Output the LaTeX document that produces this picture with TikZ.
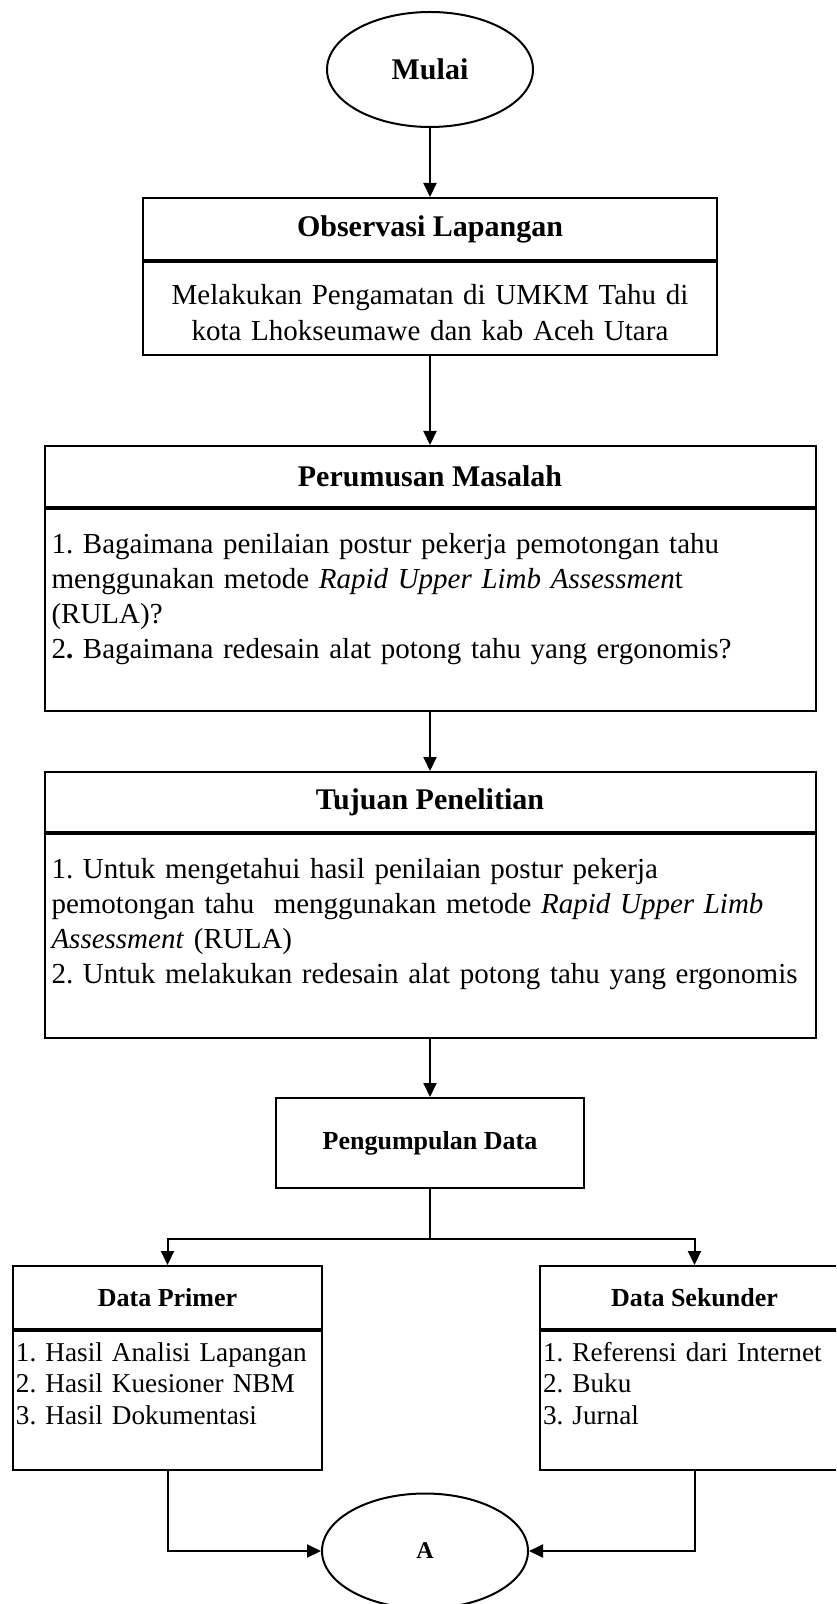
\documentclass[tikz,border=0pt]{standalone}
\usepackage{fontspec}
\setmainfont{Liberation Serif}
\usetikzlibrary{shapes.geometric,arrows.meta}

\tikzset{
	garis/.style={line width=1pt},
	panah/.style={garis, -{Triangle[length=7pt,width=6.5pt]}},
	oval/.style={draw, garis, ellipse, minimum width=103pt, minimum height=57.5pt, inner sep=0pt},
	judul/.style={draw, garis, anchor=north, inner sep=0pt, font=\bfseries\fontsize{15}{18}\selectfont},
	judulkecil/.style={judul, font=\bfseries\fontsize{13}{15.6}\selectfont},
	isi/.style={draw, garis, anchor=north, inner ysep=0pt, inner xsep=3.5pt, align=left, font=\fontsize{14.5}{17.6}\selectfont},
	isikecil/.style={isi, inner xsep=1.5pt, font=\fontsize{13.6}{15.9}\selectfont}
}

\begin{document}
\frenchspacing
\begin{tikzpicture}[x=0.5pt, y=-0.5pt]
	\clip (0,0) rectangle (836,1604);

	%% Mulai
	\node[oval, font=\bfseries\fontsize{15}{18}\selectfont] (mulai) at (430,69.5) {Mulai};

	%% Observasi Lapangan
	\node[judul, minimum width=287pt, minimum height=31pt] (obsjudul) at (430,197) {Observasi Lapangan};
	\node[isi, align=center, text width=280pt, text height=21.5pt, text depth=25pt] (obsisi) at (obsjudul.south)
		{Melakukan Pengamatan di UMKM Tahu di\\kota Lhokseumawe dan kab Aceh Utara};

	%% Perumusan Masalah
	\node[judul, minimum width=385.5pt, minimum height=30.5pt] (rumusjudul) at (430,445) {Perumusan Masalah};
	\node[isi, text width=378.5pt, text height=22pt, text depth=79pt] (rumusisi) at (rumusjudul.south)
		{1. Bagaimana penilaian postur pekerja pemotongan tahu\\
		menggunakan metode \textit{Rapid Upper Limb Assessmen}t\\
		(RULA)?\\
		2\textbf{.} Bagaimana redesain alat potong tahu yang ergonomis?};

	%% Tujuan Penelitian
	\node[judul, minimum width=385.5pt, minimum height=30pt] (tujuanjudul) at (430,771) {Tujuan Penelitian};
	\node[isi, text width=378.5pt, text height=22pt, text depth=80pt] (tujuanisi) at (tujuanjudul.south)
		{1. Untuk mengetahui hasil penilaian postur pekerja\\
		pemotongan tahu\ \ menggunakan metode \textit{Rapid Upper Limb}\\
		\textit{Assessment} (RULA)\\
		2. Untuk melakukan redesain alat potong tahu yang ergonomis};

	%% Pengumpulan Data
	\node[judulkecil, minimum width=154pt, minimum height=45pt] (kumpul) at (430,1097) {Pengumpulan Data};
	\coordinate (cabang) at (430,1239);

	%% Data Primer & Sekunder
	\node[judulkecil, minimum width=154.5pt, minimum height=31.5pt] (primerjudul) at (167.5,1265) {Data Primer};
	\node[isikecil, text width=151.5pt, text height=15pt, text depth=54.5pt] (primerisi) at (primerjudul.south)
		{1. Hasil Analisi Lapangan\\2. Hasil Kuesioner NBM\\3. Hasil Dokumentasi};
	\node[judulkecil, minimum width=154.5pt, minimum height=31.5pt] (sekunderjudul) at (694.5,1265) {Data Sekunder};
	\node[isikecil, text width=151.5pt, text height=15pt, text depth=54.5pt] (sekunderisi) at (sekunderjudul.south)
		{1. Referensi dari Internet\\2. Buku\\3. Jurnal};

	%% A
	\node[oval, font=\bfseries\fontsize{12}{14}\selectfont] (a) at (425,1551) {A};

	%% Panah
	\draw[panah] (mulai) -- (obsjudul);
	\draw[panah] (obsisi) -- (rumusjudul);
	\draw[panah] (rumusisi) -- (tujuanjudul);
	\draw[panah] (tujuanisi) -- (kumpul);
	\draw[garis] (kumpul) -- (cabang);
	\draw[panah] (cabang) -| (primerjudul);
	\draw[panah] (cabang) -| (sekunderjudul);
	\draw[panah] (primerisi) |- (a);
	\draw[panah] (sekunderisi) |- (a);
\end{tikzpicture}
\end{document}
